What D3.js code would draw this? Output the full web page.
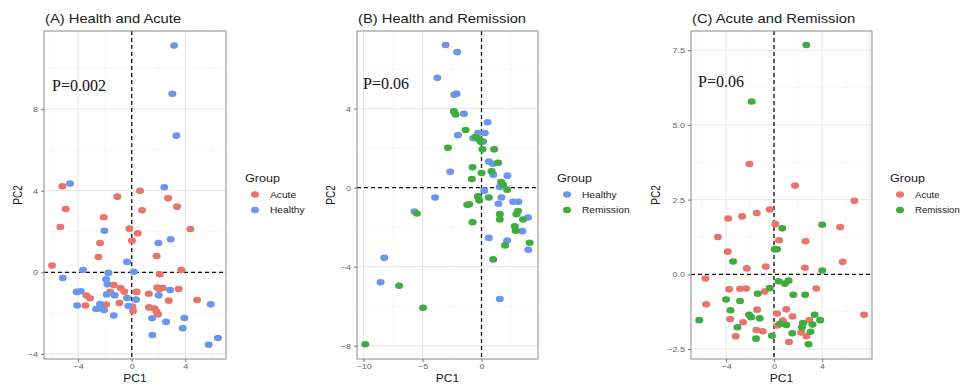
<!DOCTYPE html>
<html>
<head>
<meta charset="utf-8">
<script src="https://cdn.jsdelivr.net/npm/d3@7"></script>
<style>
  body { margin: 0; background: #fff; }
  svg { display: block; font-family: "Liberation Sans", Arial, sans-serif; }
</style>
</head>
<body>
<div id="chart"></div>
<script>
// ---- data, [PC1, PC2] ----
const acuteA = [[-5.17,4.22],[-1.07,3.71],[0.62,4.0],[2.71,3.63],[-4.92,3.1],[0.77,3.04],[3.38,3.22],
  [-2.09,2.7],[-5.32,2.22],[-0.17,2.14],[0.45,1.91],[4.37,2.12],[0.02,1.55],[-2.36,1.44],[-2.48,0.75],
  [1.86,0.8],[-5.94,0.33],[3.7,0.11],[2.09,-0.1],[-1.34,-0.62],[-0.82,-0.77],[-0.55,-0.95],[-1.61,-0.96],
  [-3.38,-1.14],[-3.11,-1.27],[0.37,-0.96],[1.27,-1.05],[1.91,-0.75],[2.06,-0.82],[2.31,-0.77],[3.5,-0.82],
  [4.87,-1.36],[2.76,-1.39],[-0.92,-1.5],[-1.91,-1.58],[-3.45,-1.63],[0.05,-1.68],[0.1,-1.9],[1.29,-1.72],
  [1.69,-1.78],[1.86,-1.94],[1.96,-2.06]];
const healthyA = [[3.16,11.12],[3.03,8.75],[3.33,6.7],[-4.6,4.35],[2.43,4.17],[-2.04,2.04],[1.99,1.44],
  [2.91,1.62],[-0.35,0.51],[-3.63,0.11],[0.15,0.03],[-5.14,-0.28],[-1.74,-0.03],[-1.91,-0.34],[-1.81,-0.59],
  [-4.1,-0.96],[-3.8,-0.93],[-1.86,-1.09],[-1.27,-1.13],[2.86,-0.87],[2.01,-1.13],[-0.35,-1.26],[0.32,-1.34],
  [5.89,-1.57],[-2.36,-1.55],[-4.07,-1.63],[-2.66,-1.8],[-2.41,-1.76],[-2.06,-1.85],[-0.25,-1.65],
  [-1.34,-2.12],[1.52,-2.25],[3.93,-2.24],[2.56,-2.43],[3.8,-2.74],[1.54,-3.07],[5.74,-3.55],[6.43,-3.22]];

const healthyB = [[-3.04,7.22],[-2.06,6.86],[-3.75,5.56],[-2.31,4.7],[-2.11,4.76],[-1.49,3.74],[0.51,3.31],
  [-2.0,2.66],[-0.28,2.77],[0.28,2.77],[-0.7,2.5],[0.14,2.34],[0.62,1.32],[0.96,1.21],[-2.65,0.81],
  [2.2,0.61],[0.99,0.66],[1.55,0.03],[-3.94,-0.5],[0.23,-0.15],[1.69,-0.5],[1.44,-0.81],[-5.69,-1.21],
  [2.68,-0.71],[3.13,-0.71],[3.94,-1.51],[3.46,-2.2],[0.62,-2.54],[2.17,-2.67],[3.97,-3.14],[-8.25,-3.55],
  [-8.56,-4.79],[1.55,-5.63]];
const remissionB = [[-2.34,3.86],[-2.2,3.71],[-1.35,2.92],[-0.51,2.56],[-0.2,2.43],[-0.06,2.33],[-2.85,2.02],
  [0.08,1.94],[1.07,1.94],[1.41,1.26],[-0.76,1.03],[0.0,0.74],[0.85,0.83],[-0.82,0.44],[1.66,0.29],
  [1.83,0.15],[2.17,-0.1],[0.62,-0.5],[-0.31,-0.44],[-0.2,-0.64],[-1.21,-0.86],[-1.04,-0.84],[-5.49,-1.31],
  [1.55,-1.34],[1.55,-1.61],[3.1,-1.18],[2.96,-1.34],[3.52,-1.61],[-0.76,-1.75],[2.82,-1.95],[2.9,-2.18],
  [4.08,-2.79],[2.0,-2.92],[0.99,-3.63],[-6.99,-4.96],[-4.96,-6.08],[-9.86,-7.92]];

const acuteC = [[-2.05,3.69],[1.75,2.97],[6.7,2.46],[-3.82,1.87],[-2.66,1.94],[-1.44,2.05],[-0.36,2.17],
  [0.11,1.68],[5.51,1.58],[-4.68,1.25],[0.42,1.14],[2.63,1.11],[-3.85,0.76],[5.73,0.42],[-2.27,0.2],
  [-0.69,0.26],[2.58,0.22],[-5.71,-0.14],[-3.74,-0.5],[-2.83,-0.48],[-2.33,-0.47],[-0.78,-0.57],[3.52,-0.47],
  [-5.65,-1.0],[-1.41,-1.18],[1.02,-1.17],[0.25,-1.31],[1.55,-1.41],[-3.66,-1.49],[7.51,-1.35],[-2.58,-1.6],
  [0.72,-1.54],[0.28,-1.71],[2.94,-1.53],[-1.47,-1.86],[-0.94,-1.9],[2.27,-1.94],[-3.19,-2.07],[2.71,-2.07],
  [1.25,-2.26]];
const remissionC = [[2.69,7.67],[-1.86,5.78],[0.69,1.54],[4.02,1.66],[0.06,0.84],[0.25,0.84],[-3.41,0.43],
  [4.02,0.13],[0.39,-0.23],[0.91,-0.31],[1.22,-0.21],[-0.36,-0.46],[-1.36,-0.65],[1.61,-0.68],[2.6,-0.68],
  [-3.99,-0.84],[-2.83,-0.89],[-3.63,-1.2],[-2.08,-1.35],[-1.91,-1.43],[-1.19,-1.47],[-6.23,-1.53],
  [3.38,-1.35],[3.85,-1.53],[0.5,-1.65],[1.02,-1.69],[2.41,-1.63],[3.21,-1.68],[-3.05,-1.77],[2.33,-1.77],
  [1.52,-1.97],[3.05,-1.92],[-0.17,-2.05],[-1.5,-2.15],[2.88,-2.34]];

const titles = ["(A) Health and Acute", "(B) Health and Remission", "(C) Acute and Remission"];
const pLabels = ["P=0.002", "P=0.06", "P=0.06"];
const xTicksA = [-4, 0, 4], yTicksA = [-4, 0, 4, 8];
const xTicksB = [-10, -5, 0], yTicksB = [-8, -4, 0, 4];
const xTicksC = [-4, 0, 4], yTicksC = [-2.5, 0, 2.5, 5, 7.5];

const colors = { Acute: "#E8756B", Healthy: "#6B97EA", Remission: "#3FAC40" };

// the source picture is a bit stretched sideways, so sans text gets widened too
const SX = 1.2;

// ---- layout ----
const W = 962, H = 384;
const svg = d3.select("#chart").append("svg").attr("width", W).attr("height", H);

const panels = [
  { left: 44, right: 226, xDom: [-6.54, 7.03], yDom: [-4.25, 11.83], xTicks: xTicksA, yTicks: yTicksA,
    fmt: d3.format("d"), groups: [["Acute", acuteA], ["Healthy", healthyA]], pPos: [52, 90.5], legX: 245, pc2: 22, legSX: SX },
  { left: 357, right: 538, xDom: [-10.56, 4.79], yDom: [-8.67, 7.93], xTicks: xTicksB, yTicks: yTicksB,
    fmt: d3.format("d"), groups: [["Healthy", healthyB], ["Remission", remissionB]], pPos: [363, 88.5], legX: 557, pc2: 22, legSX: SX },
  { left: 691, right: 872, xDom: [-6.92, 8.17], yDom: [-2.83, 8.14], xTicks: xTicksC, yTicks: yTicksC,
    fmt: d3.format(".1f"), groups: [["Acute", acuteC], ["Remission", remissionC]], pPos: [698, 86.5], legX: 890, pc2: 31, legSX: 1.13 }
];
const plotTop = 31, plotBottom = 359;

function label(sel, x, y, size, txt, anchor, sx) {
  return sel.append("text")
    .attr("transform", "translate(" + x + "," + y + ") scale(" + (sx || SX) + ",1)")
    .attr("text-anchor", anchor || "start")
    .attr("font-size", size).attr("fill", "#1a1a1a").text(txt);
}

panels.forEach(function (p, i) {
  const x = d3.scaleLinear().domain(p.xDom).range([p.left, p.right]);
  const y = d3.scaleLinear().domain(p.yDom).range([plotBottom, plotTop]);
  const g = svg.append("g");

  // minor + major grid (ggplot style: minor halfway between majors)
  const xStep = p.xTicks[1] - p.xTicks[0], yStep = p.yTicks[1] - p.yTicks[0];
  const xAll = d3.range(Math.ceil(p.xDom[0] / (xStep / 2)), Math.floor(p.xDom[1] / (xStep / 2)) + 1).map(k => k * xStep / 2);
  const yAll = d3.range(Math.ceil(p.yDom[0] / (yStep / 2)), Math.floor(p.yDom[1] / (yStep / 2)) + 1).map(k => k * yStep / 2);
  const isMajor = (v, s) => Math.abs(v / s - Math.round(v / s)) < 1e-6;

  g.selectAll(".vgrid").data(xAll).enter().append("line")
    .attr("x1", d => x(d)).attr("x2", d => x(d)).attr("y1", plotTop).attr("y2", plotBottom)
    .attr("stroke", d => isMajor(d, xStep) ? "#e6e6e6" : "#f3f3f3")
    .attr("stroke-width", d => isMajor(d, xStep) ? 1 : 0.6);
  g.selectAll(".hgrid").data(yAll).enter().append("line")
    .attr("y1", d => y(d)).attr("y2", d => y(d)).attr("x1", p.left).attr("x2", p.right)
    .attr("stroke", d => isMajor(d, yStep) ? "#e6e6e6" : "#f3f3f3")
    .attr("stroke-width", d => isMajor(d, yStep) ? 1 : 0.6);

  // reference lines at 0
  g.append("line").attr("x1", x(0)).attr("x2", x(0)).attr("y1", plotTop).attr("y2", plotBottom)
    .attr("stroke", "#111").attr("stroke-width", 1.3).attr("stroke-dasharray", "4,3");
  g.append("line").attr("x1", p.left).attr("x2", p.right).attr("y1", y(0)).attr("y2", y(0))
    .attr("stroke", "#111").attr("stroke-width", 1.3).attr("stroke-dasharray", "4,3");

  // points
  p.groups.forEach(function (grp) {
    g.selectAll(null).data(grp[1]).enter().append("ellipse")
      .attr("cx", d => x(d[0])).attr("cy", d => y(d[1]))
      .attr("rx", 4).attr("ry", 3.3)
      .attr("fill", colors[grp[0]]);
  });

  // panel border
  g.append("rect").attr("x", p.left).attr("y", plotTop)
    .attr("width", p.right - p.left).attr("height", plotBottom - plotTop)
    .attr("fill", "none").attr("stroke", "#8a8a8a").attr("stroke-width", 1);

  // axes
  const xAxis = d3.axisBottom(x).tickValues(p.xTicks).tickSize(3).tickPadding(2);
  const yAxis = d3.axisLeft(y).tickValues(p.yTicks).tickSize(3).tickPadding(2);
  const ax = g.append("g").attr("transform", "translate(0," + plotBottom + ")").call(xAxis);
  const ay = g.append("g").attr("transform", "translate(" + p.left + ",0)").call(yAxis);
  [ax, ay].forEach(function (a) {
    a.select(".domain").remove();
    a.selectAll("line").attr("stroke", "#777");
    a.selectAll("text").attr("fill", "#666").attr("font-size", 7.5)
      .attr("font-family", "Liberation Sans, Arial, sans-serif")
      .attr("transform", "scale(" + SX + ",1)");
  });
  ax.selectAll("text").text(d => (d < 0 ? "\u2212" : "") + Math.abs(d));
  ay.selectAll("text").text(d => (d < 0 ? "\u2212" : "") + p.fmt(Math.abs(d)));

  // axis titles
  label(g, (p.left + p.right) / 2, 381.5, 10, "PC1", "middle");
  g.append("text")
    .attr("transform", "translate(" + (p.left - p.pc2) + "," + ((plotTop + plotBottom) / 2) + ") rotate(-90) scale(1," + SX + ")")
    .attr("text-anchor", "middle").attr("font-size", 10).attr("fill", "#1a1a1a").text("PC2");

  // title
  label(g, p.left + 1, 22.5, 12.3, titles[i]);

  // p value (serif, not stretched)
  g.append("text").attr("x", p.pPos[0]).attr("y", p.pPos[1])
    .attr("font-family", "Liberation Serif, Times New Roman, serif")
    .attr("font-size", 16).attr("fill", "#111").text(pLabels[i]);

  // legend
  const leg = g.append("g").attr("transform", "translate(" + p.legX + ",0)");
  label(leg, 0, 182, 10.5, "Group");
  p.groups.forEach(function (grp, k) {
    leg.append("ellipse").attr("cx", 10).attr("cy", 194.5 + k * 15.5).attr("rx", 4).attr("ry", 3.3)
      .attr("fill", colors[grp[0]]);
    label(leg, 25, 197.5 + k * 15.5, 8.5, grp[0], "start", p.legSX);
  });
});
</script>
</body>
</html>
